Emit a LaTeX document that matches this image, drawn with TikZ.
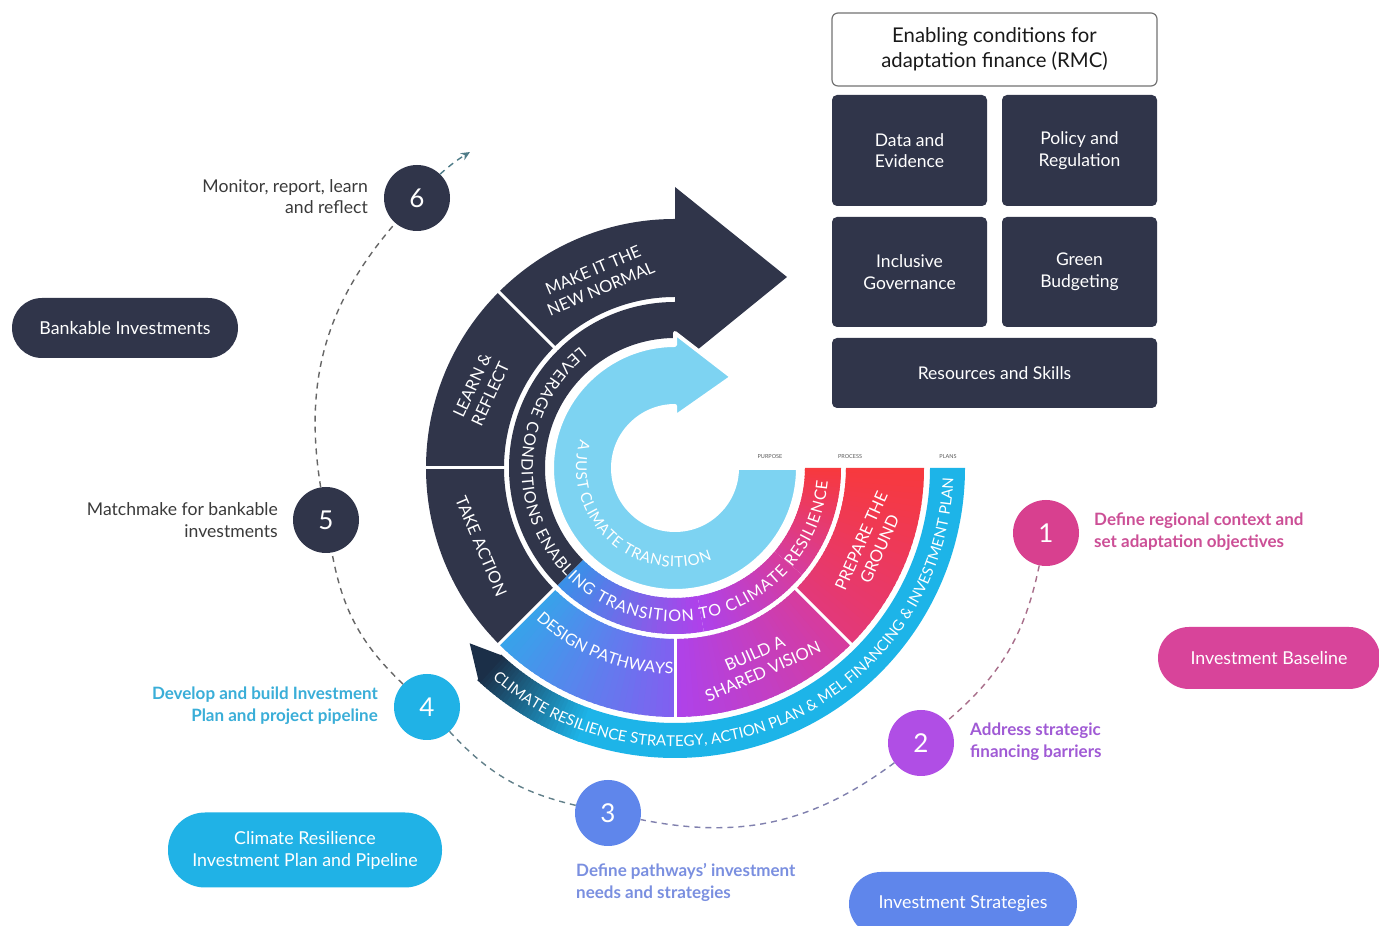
\documentclass[tikz,border=0pt]{standalone}
\usepackage{fontspec}
\setmainfont{Lato}
\usetikzlibrary{decorations.text,arrows.meta}
\definecolor{navy}{HTML}{30354A}
\definecolor{lblue}{HTML}{7DD3F2}
\definecolor{cyanb}{HTML}{1DB4E8}
\definecolor{plandark}{HTML}{1B2F48}
\definecolor{gA}{HTML}{37A3EA}
\definecolor{gA2}{HTML}{3A90E8}
\definecolor{gB}{HTML}{8060F0}
\definecolor{gC}{HTML}{AE42EA}
\definecolor{gD}{HTML}{D63C9E}
\definecolor{gE}{HTML}{E2397A}
\definecolor{gF}{HTML}{F7393E}
\definecolor{labelgray}{HTML}{3A3A3A}
\definecolor{cone}{HTML}{D8408F}
\definecolor{ctwo}{HTML}{B04EE5}
\definecolor{cthree}{HTML}{5F86EB}
\definecolor{cfour}{HTML}{20B2E6}
\definecolor{tone}{HTML}{CC4F96}
\definecolor{ttwo}{HTML}{A05AD5}
\definecolor{tthree}{HTML}{7A8FE0}
\definecolor{tfour}{HTML}{3AAED8}
\definecolor{pbase}{HTML}{D8449A}
\definecolor{dashA}{HTML}{A86E8A}
\definecolor{dashB}{HTML}{8080AE}
\definecolor{dashC}{HTML}{62808A}
\definecolor{dashD}{HTML}{666666}
\definecolor{dashE}{HTML}{4F7C88}
\newcommand{\annsec}[5]{\fill[#5] (#1:#4) arc[start angle=#1,end angle=#2,radius=#4pt] -- (#2:#3) arc[start angle=#2,end angle=#1,radius=#3pt] -- cycle;}
\newcommand{\gradsec}[6]{\foreach \gi in {0,...,29}{\pgfmathsetmacro\gsa{#1+(#2-#1)*\gi/30}\pgfmathsetmacro\gea{#1+(#2-#1)*min(\gi+1.6,30)/30}\pgfmathtruncatemacro\gp{100-100*\gi/29}\annsec{\gsa}{\gea}{#3}{#4}{#5!\gp!#6}}}
\newcommand{\bandfont}{\fontsize{16.5}{20}\selectfont}
\newcommand{\ringfont}{\fontsize{16}{20}\selectfont}
\newcommand{\innerfont}{\fontsize{15}{16}\selectfont}
\newcommand{\planfont}{\fontsize{15}{16}\selectfont}
\tikzset{
  numc/.style={circle, minimum size=66pt, inner sep=0pt, text=white, font=\fontsize{26}{26}\selectfont},
  lbl/.style={inner sep=0pt, text=labelgray, font=\fontsize{17.6}{21.5}\selectfont},
  clbl/.style={inner sep=0pt, font=\bfseries\fontsize{17}{22}\selectfont},
  darkbox/.style={fill=navy, rounded corners=5pt, text=white, align=center, inner sep=0pt, font=\fontsize{17.5}{21.5}\selectfont},
  pilltxt/.style={text=white, align=center, inner sep=0pt, font=\fontsize{17.8}{22}\selectfont},
  bandtxt/.style={text=white, align=center, inner sep=0pt, font=\bandfont},
  tinytxt/.style={text=black!65, inner sep=0pt, font=\fontsize{5.5}{6}\selectfont},
  dashc/.style={dash pattern=on 6pt off 5pt, line width=1.4pt},
}
\begin{document}
\begin{tikzpicture}[x=1pt,y=1pt]
\useasboundingbox (0,0) rectangle (1379,926);
\fill[white] (0,0) rectangle (1379,926);

% ---------------- central wheel ----------------
\begin{scope}[shift={(675,458)}]
% plans band
\annsec{250}{360}{255}{290}{cyanb}
\gradsec{227}{251}{255}{290}{plandark}{cyanb}
\fill[plandark] (227.4:255) -- (220.5:270) -- (227.4:290) -- cycle;
% process band
\annsec{90}{225}{171}{249}{navy}
\gradsec{225}{270}{171}{249}{gA}{gB}
\gradsec{270}{315}{171}{249}{gC}{gD}
\gradsec{315}{360}{171}{249}{gE}{gF}
% leverage ring
\annsec{90}{225}{130}{166}{navy}
\gradsec{225}{280}{130}{166}{gA2}{gC}
\gradsec{280}{320}{130}{166}{gC}{gD}
\gradsec{320}{360}{130}{166}{gD}{gF}
% big arrow head
\fill[navy] (0,281) -- (112,191) -- (0,100) -- cycle;
% separators
\foreach \a in {135,180,225,270,315} \draw[white, line width=3pt] (\a:168) -- (\a:252);
% purpose ring with arrow
\filldraw[fill=lblue, draw=white, line width=4pt, line join=round]
  (0:62) -- (0:123) arc[start angle=360,end angle=90,radius=123pt]
  -- (0,135) -- (57,91) -- (0,51) -- (0,62)
  arc[start angle=90,end angle=360,radius=62pt] -- cycle;

% curved texts
\path[decorate, decoration={text along path, text={|\innerfont|A JUST CLIMATE TRANSITION}, text color=white, text align=fit to path}]
  (163:99) arc[start angle=163,end angle=292,radius=99pt];
\path[decorate, decoration={text along path, text={|\ringfont|LEVERAGE CONDITIONS ENABLING TRANSITION TO CLIMATE RESILIENCE}, text color=white, text align=fit to path}]
  (128:153.5) arc[start angle=128,end angle=355,radius=153.5pt];
\path[decorate, decoration={text along path, text={|\planfont|CLIMATE RESILIENCE STRATEGY, ACTION PLAN {\&} MEL FINANCING {\&} INVESTMENT PLAN}, text color=white, text align=fit to path}]
  (229:278.5) arc[start angle=229,end angle=358,radius=278.5pt];
\path[decorate, decoration={text along path, text={|\ringfont|DESIGN PATHWAYS}, text color=white, text align=fit to path}]
  (227.5:206) arc[start angle=227.5,end angle=269.5,radius=206pt];

% band texts
\node[bandtxt, rotate=23] (tmake) at (112.5:204) {MAKE IT THE\\NEW NORMAL};
\node[bandtxt, rotate=65] (tlearn) at (158:209) {LEARN \&\\REFLECT};
\node[bandtxt, rotate=-67] (ttake) at (202:209) {TAKE ACTION};
\node[bandtxt, rotate=24] (tbuild) at (293.3:212) {BUILD A\\SHARED VISION};
\node[bandtxt, rotate=66] (tprep) at (338.5:210) {PREPARE THE\\GROUND};

% small headers
\node[tinytxt] (lpurpose) at (95,11) {PURPOSE};
\node[tinytxt] (lprocess) at (175,11) {PROCESS};
\node[tinytxt] (lplans) at (273,11) {PLANS};
\end{scope}

% ---------------- enabling conditions ----------------
\node[draw=black!55, line width=1.2pt, fill=white, rounded corners=6pt, minimum width=325pt, minimum height=73pt, align=center, inner sep=0pt, text=black!90, font=\fontsize{20.3}{25}\selectfont] (hdr) at (994.5,876.5) {Enabling conditions for\\adaptation finance (RMC)};
\node[darkbox, minimum width=155pt, minimum height=111pt] (bdata) at (909.5,775.5) {Data and\\Evidence};
\node[darkbox, minimum width=155pt, minimum height=111pt] (bpolicy) at (1079.5,775.5) {Policy and\\Regulation};
\node[darkbox, minimum width=155pt, minimum height=110pt] (bgov) at (909.5,654) {Inclusive\\Governance};
\node[darkbox, minimum width=155pt, minimum height=110pt] (bgreen) at (1079.5,654) {Green\\Budgeting};
\node[darkbox, minimum width=325pt, minimum height=70pt] (bres) at (994.5,553) {Resources and Skills};

% ---------------- pills ----------------
\node[pilltxt, fill=navy, rounded corners=30pt, minimum width=226pt, minimum height=60pt] (pbank) at (125,598) {Bankable Investments};
\node[pilltxt, fill=pbase, rounded corners=31pt, minimum width=222pt, minimum height=62pt] (pbaseline) at (1269,268) {Investment Baseline};
\node[pilltxt, fill=cfour, rounded corners=37pt, minimum width=274pt, minimum height=75pt] (pcrip) at (305,76) {Climate Resilience\\Investment Plan and Pipeline};
\node[pilltxt, fill=cthree, rounded corners=32pt, minimum width=228pt, minimum height=64pt] (pstrat) at (963,22) {Investment Strategies};

% ---------------- numbered steps ----------------
\node[numc, fill=cone] (c1) at (1046,393) {1};
\node[numc, fill=ctwo] (c2) at (921,183) {2};
\node[numc, fill=cthree] (c3) at (608,113) {3};
\node[numc, fill=cfour] (c4) at (427,219) {4};
\node[numc, fill=navy] (c5) at (326,406) {5};
\node[numc, fill=navy] (c6) at (417,728) {6};
\coordinate (cend) at (470,774);

\draw[dashc, draw=dashA] (c1) to[bend left=19] (c2);
\draw[dashc, draw=dashB] (c2) to[bend left=24] (c3);
\draw[dashc, draw=dashC] (c3) to[bend left=17] (c4);
\draw[dashc, draw=dashD] (c4) to[bend left=18] (c5);
\draw[dashc, draw=dashD] (c5) to[bend left=25] (c6);
\draw[dashc, draw=dashE, -{Stealth[length=9pt,width=8pt]}] (c6) to[bend left=5] (cend);

% ---------------- step labels ----------------
\node[clbl, text=tone, anchor=west, align=left] (t1) at (1094,394) {Define regional context and\\set adaptation objectives};
\node[clbl, text=ttwo, anchor=west, align=left] (t2) at (970,184) {Address strategic\\financing barriers};
\node[clbl, text=tthree, anchor=west, align=left] (t3) at (576,44) {Define pathways' investment\\needs and strategies};
\node[clbl, text=tfour, anchor=east, align=right] (t4) at (378,220) {Develop and build Investment\\Plan and project pipeline};
\node[lbl, anchor=east, align=right] (t5) at (278,406) {Matchmake for bankable\\investments};
\node[lbl, anchor=east, align=right] (t6) at (368,729.5) {Monitor, report, learn\\and reflect};
\end{tikzpicture}
\end{document}
